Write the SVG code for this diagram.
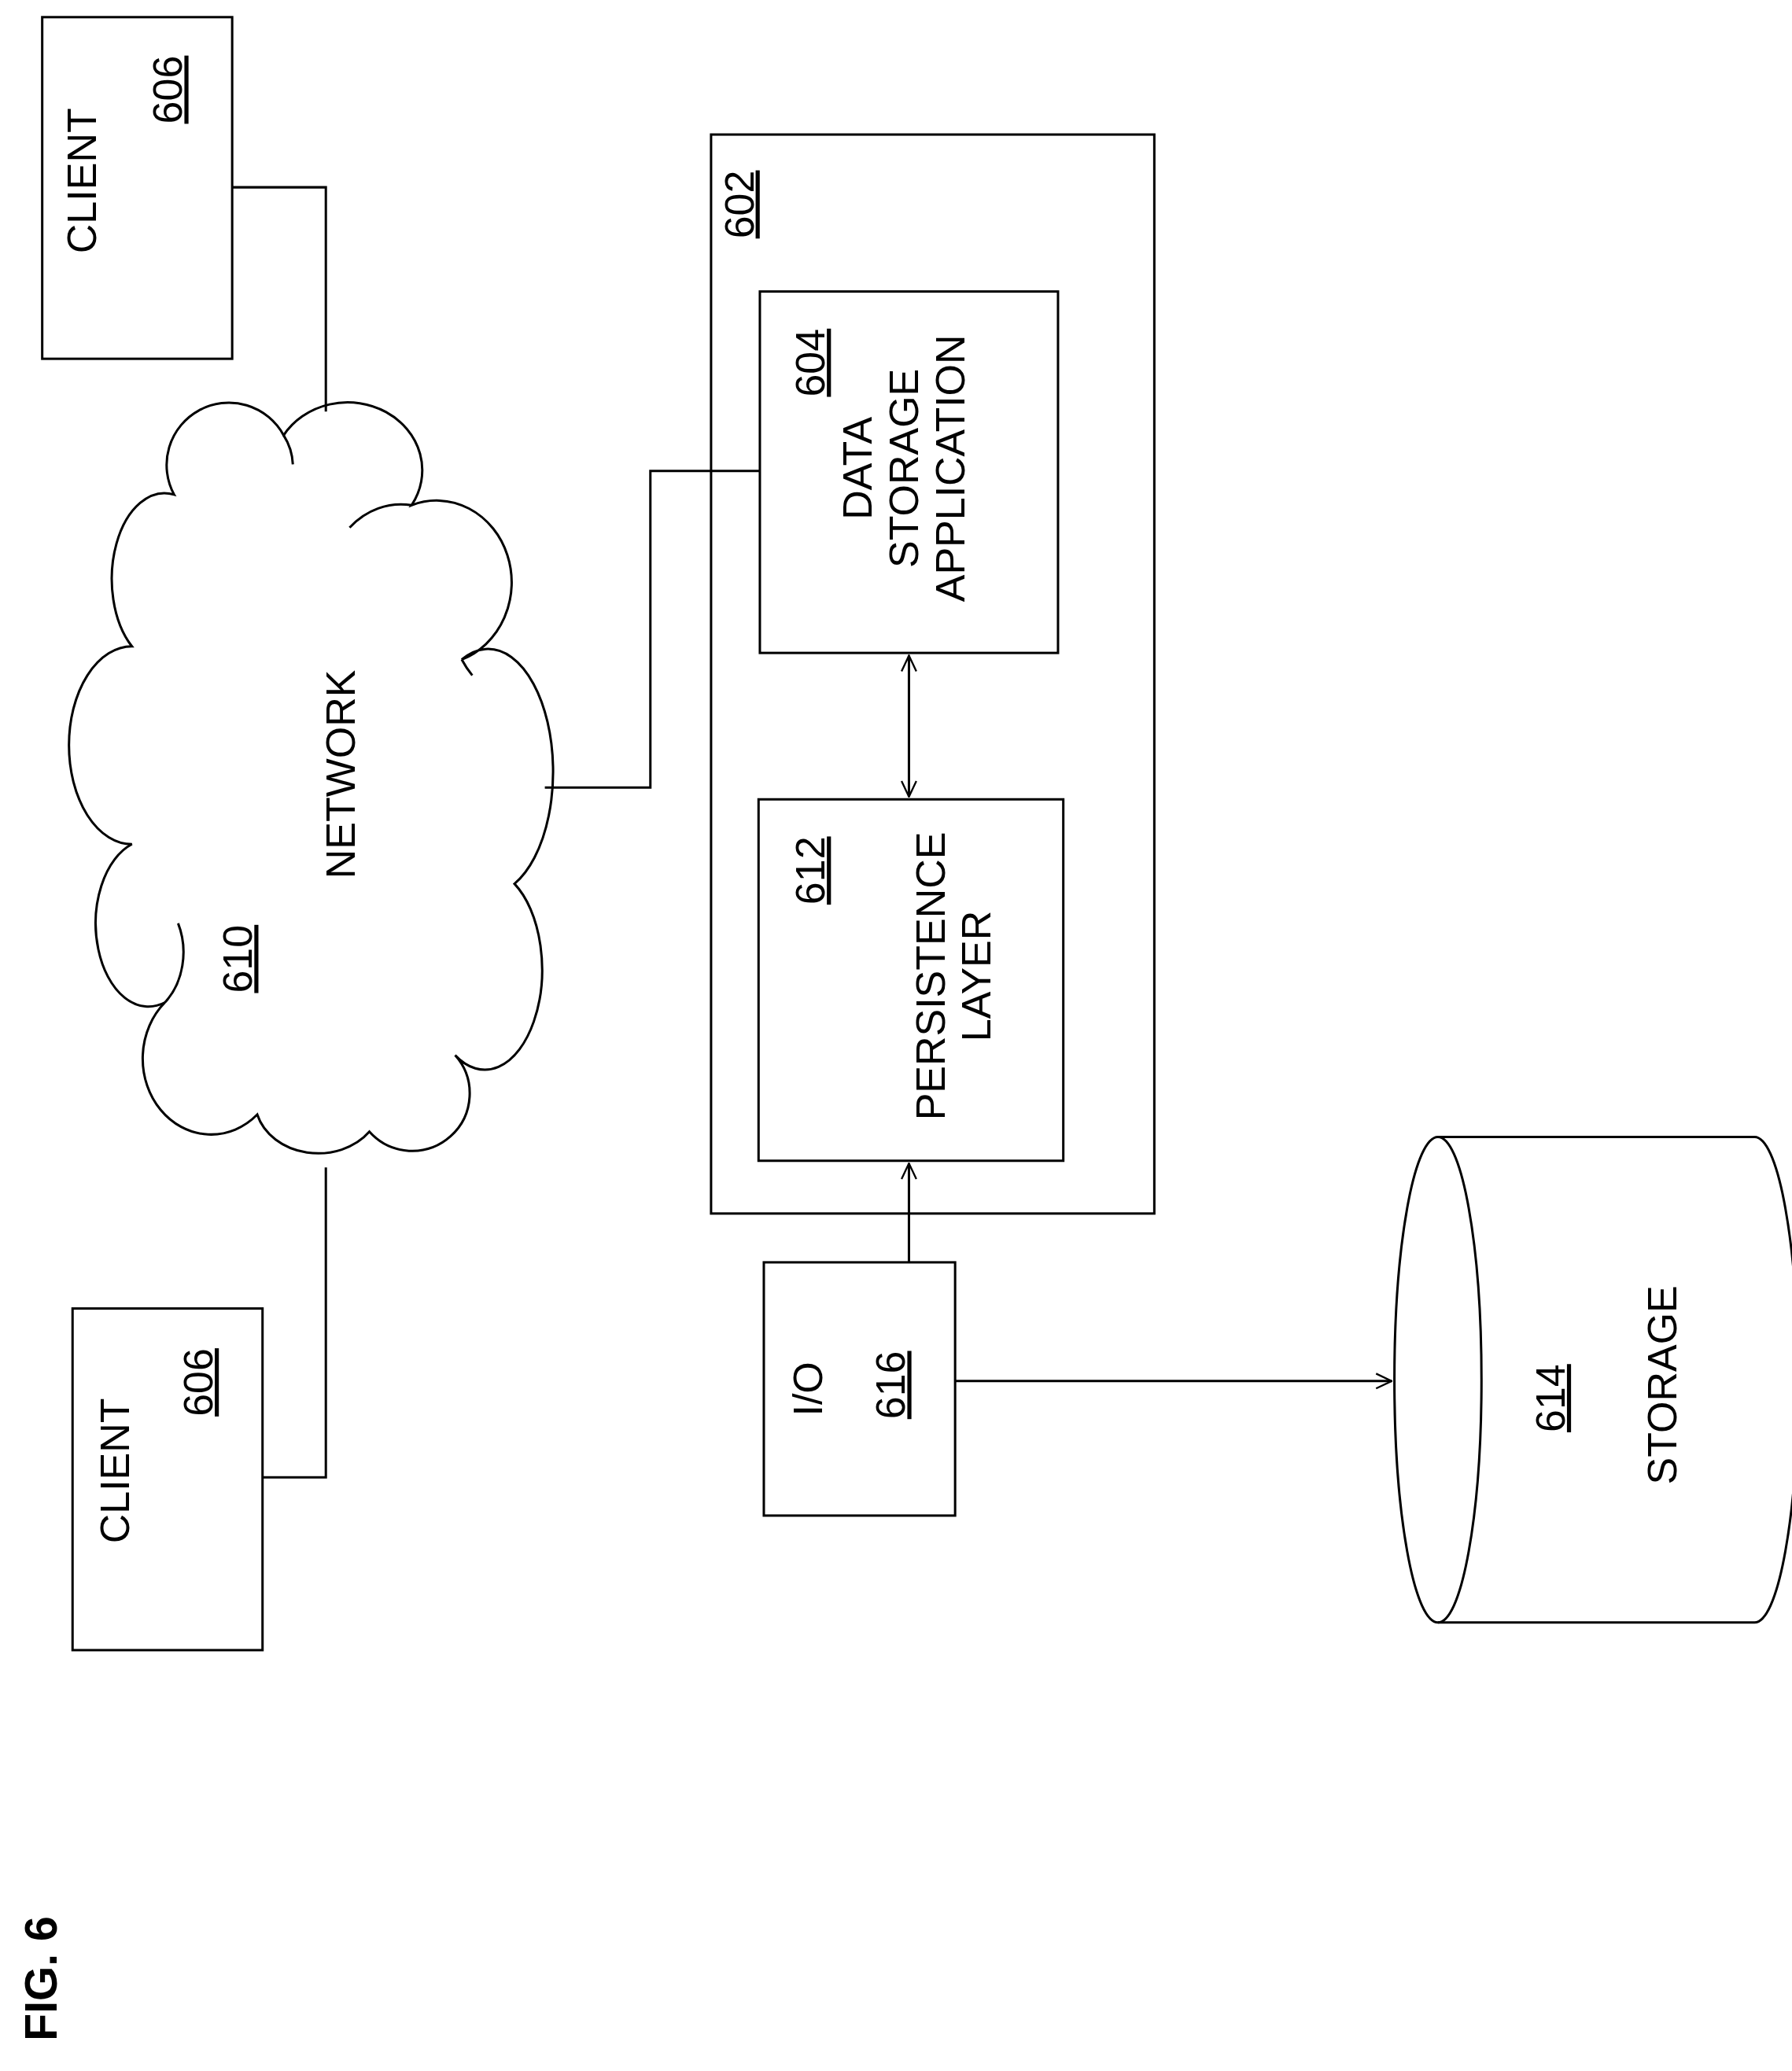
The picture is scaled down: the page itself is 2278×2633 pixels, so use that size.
<svg xmlns="http://www.w3.org/2000/svg" width="2278" height="2633" viewBox="0 0 2278 2633">
<style>
.b{fill:none;stroke:#000;stroke-width:1.8}
.t{font-family:"Liberation Sans",Arial,sans-serif;font-size:31px;fill:#000;text-anchor:middle}
.u{text-decoration:underline}
</style>
<defs>
<marker id="a" viewBox="0 0 20 20" refX="19" refY="10" markerWidth="14" markerHeight="14" markerUnits="userSpaceOnUse" orient="auto-start-reverse"><path d="M2,2 L19,10 L2,18" fill="none" stroke="#000" stroke-width="2"/></marker>
</defs>
<rect width="2278" height="2633" fill="#fff"/>
<g transform="scale(1.677)">
<g id="connectors">
<polyline class="b" points="176,142 247,142 247,312"/>
<polyline class="b" points="199,1120 247,1120 247,885"/>
<polyline class="b" points="413,597 493,597 493,357 576,357"/>
<line class="b" x1="689" y1="497" x2="689" y2="604" marker-start="url(#a)" marker-end="url(#a)"/>
<line class="b" x1="689" y1="957" x2="689" y2="882" marker-end="url(#a)"/>
<line class="b" x1="724" y1="1047" x2="1055" y2="1047" marker-end="url(#a)"/>
</g>
<g id="client1">
<rect class="b" x="32" y="13" width="144" height="259"/>
<text class="t" transform="translate(73,137) rotate(-90)">CLIENT</text>
<text class="t u" transform="translate(138,68) rotate(-90)">606</text>
</g>
<g id="client2">
<rect class="b" x="55" y="992" width="144" height="259"/>
<text class="t" transform="translate(98,1115) rotate(-90)">CLIENT</text>
<text class="t u" transform="translate(161,1048) rotate(-90)">606</text>
</g>
<g id="network">
<path class="b" d="M132,375 A45,45 0 0 1 215,330 A55,50 0 0 1 312,383 A55,60 0 0 1 350,500 A45,85 0 0 1 390,670 A40,70 0 0 1 345,800 A40,40 0 0 1 280,858 A48,40 0 0 1 195,845 A45,50 0 0 1 125,760 A38,60 0 0 1 100,640 A35,55 0 0 1 100,490 A40,65 0 0 1 132,375 Z"/>
<path class="b" d="M215,330 A45,45 0 0 1 222,352"/>
<path class="b" d="M265,400 A55,60 0 0 1 312,383"/>
<path class="b" d="M350,500 A50,80 0 0 0 358,512"/>
<path class="b" d="M125,760 A40,50 0 0 0 135,700"/>
<text class="t" transform="translate(269,587) rotate(-90)">NETWORK</text>
<text class="t u" transform="translate(191,727) rotate(-90)">610</text>
</g>
<g id="n602">
<rect class="b" x="539" y="102" width="336" height="818"/>
<text class="t u" transform="translate(571,155) rotate(-90)">602</text>
</g>
<g id="n604">
<rect class="b" x="576" y="221" width="226" height="274"/>
<text class="t u" transform="translate(625,275) rotate(-90)">604</text>
<text class="t" transform="translate(661,355) rotate(-90)">DATA</text>
<text class="t" transform="translate(696,355) rotate(-90)">STORAGE</text>
<text class="t" transform="translate(731,355) rotate(-90)">APPLICATION</text>
</g>
<g id="n612">
<rect class="b" x="575" y="606" width="231" height="274"/>
<text class="t u" transform="translate(625,660) rotate(-90)">612</text>
<text class="t" transform="translate(716,740) rotate(-90)">PERSISTENCE</text>
<text class="t" transform="translate(751,740) rotate(-90)">LAYER</text>
</g>
<g id="n616">
<rect class="b" x="579" y="957" width="145" height="192"/>
<text class="t" transform="translate(623,1053) rotate(-90)">I/O</text>
<text class="t u" transform="translate(686,1050) rotate(-90)">616</text>
</g>
<g id="n614">
<path class="b" d="M1090,862 L1330,862 A33,184 0 0 1 1330,1230 L1090,1230"/>
<ellipse class="b" cx="1090" cy="1046" rx="33" ry="184"/>
<text class="t u" transform="translate(1186,1060) rotate(-90)">614</text>
<text class="t" transform="translate(1271,1050) rotate(-90)">STORAGE</text>
</g>
<text transform="translate(43,1500) rotate(-90)" style="font-family:'Liberation Sans',Arial,sans-serif;font-size:34px;font-weight:bold;text-anchor:middle">FIG. 6</text>
</g>
</svg>
